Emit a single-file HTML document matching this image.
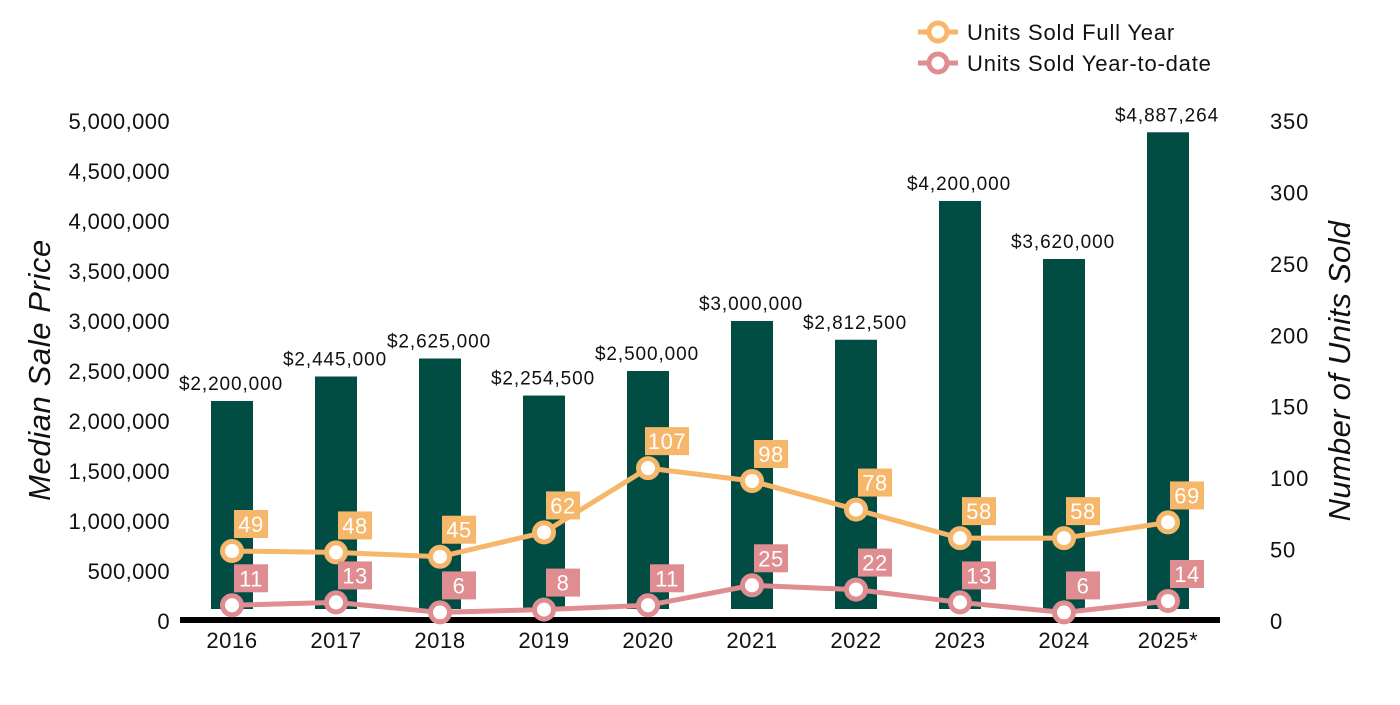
<!DOCTYPE html>
<html><head><meta charset="utf-8"><style>
body{margin:0;background:#fff;}
svg{font-family:"Liberation Sans",Arial,sans-serif;}
</style></head><body>
<svg id="chart" width="1400" height="700" xmlns="http://www.w3.org/2000/svg"></svg>
<script>
const categories=["2016","2017","2018","2019","2020","2021","2022","2023","2024","2025*"];
const prices=[2200000,2445000,2625000,2254500,2500000,3000000,2812500,4200000,3620000,4887264];
const fullYear=[49,48,45,62,107,98,78,58,58,69];
const ytd=[11,13,6,8,11,25,22,13,6,14];
const leftTicks=[0,500000,1000000,1500000,2000000,2500000,3000000,3500000,4000000,4500000,5000000];
const rightTicks=[0,50,100,150,200,250,300,350];

const NS="http://www.w3.org/2000/svg";
const svg=document.getElementById('chart');
function el(t,a,p){const e=document.createElementNS(NS,t);for(const k in a)e.setAttribute(k,a[k]);(p||svg).appendChild(e);return e;}
const y0=621,yTop=121;
const yL=v=>y0-(v/5000000)*(y0-yTop);
const yR=v=>y0-(v/350)*(y0-yTop);
const xC=i=>232+i*104;
const fmt=n=>n.toLocaleString('en-US');

leftTicks.forEach(v=>{const t=el('text',{x:170,y:yL(v)+8,'text-anchor':'end','font-size':22,'letter-spacing':0.4,fill:'#111'});t.textContent=fmt(v);

});
rightTicks.forEach(v=>{const t=el('text',{x:1270,y:yR(v)+8,'text-anchor':'start','font-size':22,'letter-spacing':0.8,fill:'#111'});t.textContent=v;

});

let t=el('text',{x:0,y:0,transform:'translate(50,370) rotate(-90)','text-anchor':'middle','font-size':31,'letter-spacing':0.6,'font-style':'italic',fill:'#111'});t.textContent='Median Sale Price';

t=el('text',{x:0,y:0,transform:'translate(1350,371) rotate(-90)','text-anchor':'middle','font-size':31,'letter-spacing':0.3,'font-style':'italic',fill:'#111'});t.textContent='Number of Units Sold';


categories.forEach((c,i)=>{
 const top=yL(prices[i]);
 const b=el('rect',{x:xC(i)-21,y:top,width:42,height:609-top,fill:'#014d43'});
 
 
 const l=el('text',{x:xC(i)-1,y:top-11,'text-anchor':'middle','font-size':19,'letter-spacing':0.9,fill:'#111'});l.textContent='$'+fmt(prices[i]);
 
 
 const x=el('text',{x:xC(i),y:648,'text-anchor':'middle','font-size':22,'letter-spacing':0.6,fill:'#111'});x.textContent=c;
 
 
});
const ax=el('rect',{x:180,y:617,width:1040,height:6,fill:'#000'});


function series(vals,color,name){
 const pts=vals.map((v,i)=>xC(i)+','+yR(v)).join(' ');
 const pl=el('polyline',{points:pts,fill:'none',stroke:color,'stroke-width':5});
 
 
 vals.forEach((v,i)=>{
  const cx=xC(i),cy=yR(v);
  const c=el('circle',{cx:cx,cy:cy,r:9.5,fill:'#fff',stroke:color,'stroke-width':5});
  
  
  const w=String(v).length>2?44:34;
  const r=el('rect',{x:cx+19-w/2,y:cy-41,width:w,height:28,fill:color});
  
  
  const tx=el('text',{x:cx+19,y:cy-19,'text-anchor':'middle','font-size':22,'letter-spacing':0.5,fill:'#fff'});tx.textContent=v;
  
  
 });
}
series(fullYear,'#f6b76b','full-year');
series(ytd,'#df8d90','ytd');

[['Units Sold Full Year','#f6b76b',32],['Units Sold Year-to-date','#df8d90',63]].forEach(([n,c,y],k)=>{
 const g=el('g',{});
 
 
 el('line',{x1:918,y1:y,x2:958,y2:y,stroke:c,'stroke-width':5},g);
 el('circle',{cx:938,cy:y,r:9,fill:'#fff',stroke:c,'stroke-width':5},g);
 const tt=el('text',{x:967,y:y+8,'font-size':22,'letter-spacing':0.8,fill:'#111'},g);tt.textContent=n;
});
</script>
</body></html>
